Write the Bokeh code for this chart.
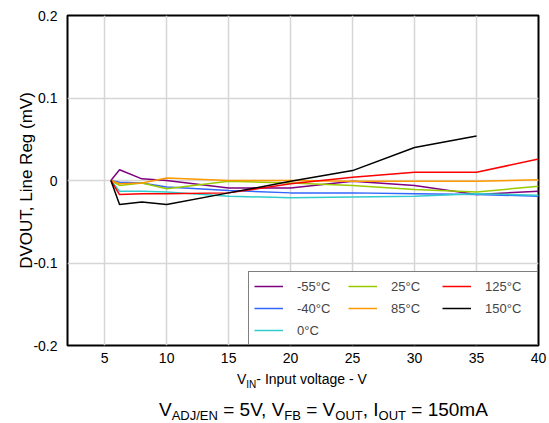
from bokeh.plotting import figure
from bokeh.models import Legend, LegendItem, Range1d, Div
from bokeh.layouts import column
from bokeh.embed import file_html
from bokeh.resources import INLINE

# ---- data ----
vin = [5.5, 6.2, 8, 10, 15, 20, 25, 30, 35, 40]
vin_150 = [5.5, 6.2, 8, 10, 15, 20, 25, 30, 35]
dv_m55 = [0, 0.013, 0.002, 0.0, -0.009, -0.009, -0.001, -0.006, -0.017, -0.013]
dv_m40 = [0, -0.002, -0.003, -0.008, -0.012, -0.015, -0.015, -0.016, -0.017, -0.019]
dv_0 = [0, -0.013, -0.013, -0.014, -0.019, -0.021, -0.020, -0.019, -0.016, -0.018]
dv_25 = [0, -0.006, -0.003, -0.010, -0.001, -0.003, -0.006, -0.011, -0.014, -0.007]
dv_85 = [0, -0.004, -0.003, 0.003, 0.0, 0.0, -0.001, -0.001, -0.001, 0.001]
dv_125 = [0, -0.017, -0.016, -0.016, -0.015, -0.004, 0.004, 0.010, 0.010, 0.026]
dv_150 = [0, -0.029, -0.026, -0.029, -0.015, -0.001, 0.012, 0.040, 0.054]

labels = ["-55°C", "-40°C", "0°C", "25°C", "85°C", "125°C", "150°C"]
colors = ["#800080", "#3366ff", "#33cccc", "#99cc00", "#ff9900", "#ff0000", "#000000"]

x_ticks = [5, 10, 15, 20, 25, 30, 35, 40]
y_ticks = [-0.2, -0.1, 0, 0.1, 0.2]
y_tick_labels = ["-0.2", "-0.1", "0", "0.1", "0.2"]

y_title = "DVOUT, Line Reg (mV)"
x_title_parts = [("V", False), ("IN", True), ("- Input voltage - V", False)]
caption_parts = [("V", False), ("ADJ/EN", True), (" = 5V, V", False), ("FB", True),
                 (" = V", False), ("OUT", True), (", I", False), ("OUT", True),
                 (" = 150mA", False)]

FONT = "Liberation Sans"

p = figure(width=549, height=368, x_range=Range1d(2, 40), y_range=Range1d(-0.2, 0.2),
           output_backend="svg", toolbar_location=None,
           min_border_left=67, min_border_right=11, min_border_top=15, min_border_bottom=23)
p.background_fill_color = "white"
p.border_fill_color = "white"
p.outline_line_color = "black"
p.outline_line_width = 2

p.xaxis.ticker = x_ticks
p.yaxis.ticker = y_ticks
p.yaxis.major_label_overrides = {t: s for t, s in zip(y_ticks, y_tick_labels)}
for ax in (p.xaxis, p.yaxis):
    ax.major_tick_line_color = None
    ax.minor_tick_line_color = None
    ax.axis_line_color = None
    ax.major_label_text_font = FONT
    ax.major_label_text_font_size = "14px"
    ax.major_label_text_color = "black"
p.xaxis.major_label_standoff = 1
p.yaxis.major_label_standoff = 4
p.yaxis.axis_label = y_title
p.yaxis.axis_label_text_font = FONT
p.yaxis.axis_label_text_font_size = "17px"
p.yaxis.axis_label_text_font_style = "normal"
p.yaxis.axis_label_text_color = "black"
p.yaxis.axis_label_standoff = -6

p.xgrid.ticker = x_ticks
p.ygrid.ticker = y_ticks
p.grid.grid_line_color = "#d6d6d6"
p.grid.grid_line_width = 1.5

series = [(vin, dv_m55), (vin, dv_m40), (vin, dv_0), (vin, dv_25),
          (vin, dv_85), (vin, dv_125), (vin_150, dv_150)]
rends = []
for (xs, ys), c in zip(series, colors):
    rends.append(p.line(xs, ys, line_color=c, line_width=1.5))

order = [0, 3, 5, 1, 4, 6, 2]
legend = Legend(items=[LegendItem(label=labels[i], renderers=[rends[i]]) for i in order],
                location="bottom_right", orientation="horizontal", ncols=3)
legend.margin = 0
legend.padding = 5
legend.spacing = 4
legend.border_line_color = "black"
legend.border_line_width = 1.5
legend.background_fill_alpha = 1
legend.glyph_width = 29
legend.glyph_height = 18
legend.label_height = 18
legend.label_width = 47
legend.label_standoff = 14
legend.label_text_font = FONT
legend.label_text_font_size = "13px"
p.add_layout(legend)


def rich_html(parts, size_main, size_sub, drop):
    out = []
    for s, sub in parts:
        if sub:
            out.append(f'<span style="font-size:{size_sub}px;vertical-align:-{drop}px;'
                       f'line-height:0">{s}</span>')
        else:
            out.append(s)
    return "".join(out)


html = (
    f'<div style="font-family:\'{FONT}\';color:black;white-space:nowrap;margin:0;padding:0">'
    f'<div style="margin-left:237px;padding-top:4px;font-size:14px;line-height:14px;height:14px">'
    f'{rich_html(x_title_parts, 14, 10, 4)}</div>'
    f'<div style="margin-left:159px;margin-top:18px;font-size:19px;line-height:19px;height:19px">'
    f'{rich_html(caption_parts, 19, 13, 4)}</div>'
    f'</div>'
)
div = Div(text=html, width=549, height=55, margin=0)

layout = column(p, div, spacing=0)
open("out.html", "w").write(file_html(layout, INLINE))
